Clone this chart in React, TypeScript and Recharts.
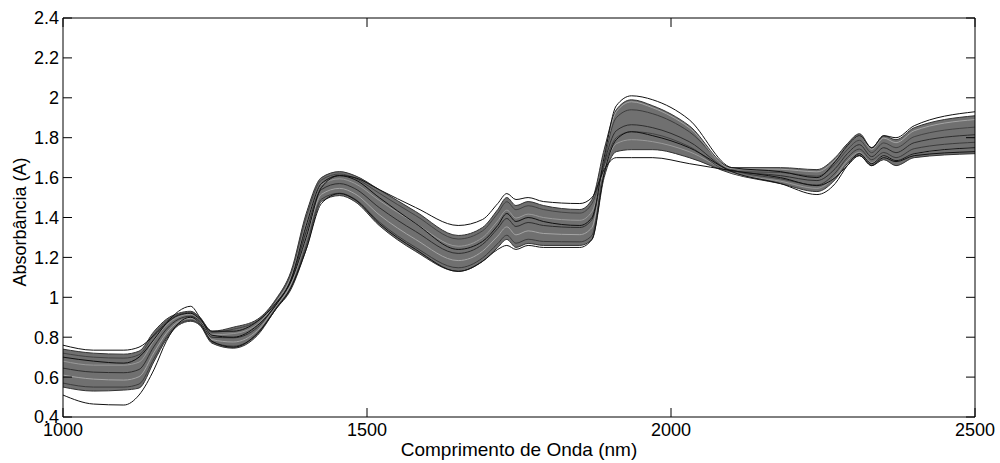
import React from 'react';
import { ComposedChart, Line, Area, XAxis, YAxis } from 'recharts';

// Wavelength grid (nm)
const wavelength = [1000, 1050, 1100, 1125, 1150, 1170, 1190, 1210, 1225, 1245, 1280, 1320, 1350, 1375, 1400, 1425, 1455, 1480, 1520, 1580, 1650, 1690, 1715, 1730, 1745, 1765, 1790, 1850, 1870, 1890, 1910, 1935, 1970, 2030, 2100, 2180, 2240, 2270, 2290, 2310, 2330, 2350, 2370, 2400, 2500];

// Envelope of the dense bundle of spectra
const bandLow = [0.55, 0.53, 0.535, 0.545, 0.68, 0.79, 0.86, 0.88, 0.86, 0.77, 0.745, 0.81, 0.94, 1.04, 1.24, 1.48, 1.51, 1.48, 1.36, 1.23, 1.13, 1.18, 1.25, 1.29, 1.25, 1.27, 1.26, 1.26, 1.29, 1.60, 1.73, 1.74, 1.74, 1.70, 1.62, 1.57, 1.53, 1.59, 1.67, 1.71, 1.66, 1.69, 1.66, 1.70, 1.72];
const bandHigh = [0.74, 0.72, 0.715, 0.73, 0.83, 0.89, 0.92, 0.93, 0.90, 0.83, 0.85, 0.89, 0.99, 1.13, 1.42, 1.60, 1.63, 1.61, 1.54, 1.43, 1.31, 1.35, 1.44, 1.50, 1.46, 1.48, 1.46, 1.44, 1.49, 1.74, 1.94, 1.99, 1.96, 1.86, 1.65, 1.65, 1.64, 1.70, 1.77, 1.82, 1.75, 1.81, 1.79, 1.85, 1.91];

// Individual spectra
const spectrumA = [0.76, 0.735, 0.735, 0.75, 0.81, 0.87, 0.91, 0.92, 0.89, 0.83, 0.83, 0.88, 0.97, 1.08, 1.30, 1.55, 1.61, 1.60, 1.54, 1.45, 1.36, 1.39, 1.47, 1.52, 1.49, 1.50, 1.48, 1.47, 1.50, 1.64, 1.70, 1.70, 1.70, 1.67, 1.635, 1.60, 1.56, 1.60, 1.66, 1.71, 1.66, 1.70, 1.68, 1.71, 1.73];
const spectrumB = [0.51, 0.465, 0.46, 0.51, 0.64, 0.78, 0.87, 0.90, 0.87, 0.78, 0.75, 0.82, 0.94, 1.05, 1.24, 1.47, 1.52, 1.49, 1.37, 1.24, 1.13, 1.18, 1.24, 1.26, 1.24, 1.26, 1.25, 1.25, 1.29, 1.62, 1.79, 1.83, 1.81, 1.75, 1.63, 1.57, 1.515, 1.57, 1.66, 1.72, 1.67, 1.71, 1.685, 1.72, 1.75];
const spectrumC = [0.70, 0.68, 0.67, 0.70, 0.79, 0.87, 0.93, 0.955, 0.90, 0.81, 0.80, 0.86, 0.96, 1.09, 1.36, 1.57, 1.61, 1.59, 1.50, 1.37, 1.24, 1.28, 1.36, 1.42, 1.38, 1.40, 1.38, 1.36, 1.40, 1.70, 1.96, 2.01, 1.99, 1.89, 1.65, 1.63, 1.60, 1.68, 1.76, 1.81, 1.75, 1.81, 1.80, 1.86, 1.93];
const spectrum1 = [0.57, 0.55, 0.55, 0.565, 0.695, 0.80, 0.866, 0.885, 0.864, 0.776, 0.755, 0.818, 0.945, 1.049, 1.258, 1.492, 1.522, 1.493, 1.378, 1.25, 1.148, 1.197, 1.269, 1.311, 1.271, 1.291, 1.28, 1.278, 1.31, 1.68, 1.90, 1.94, 1.92, 1.83, 1.64, 1.594, 1.563, 1.623, 1.70, 1.743, 1.69, 1.726, 1.70, 1.745, 1.777];
const spectrum2 = [0.61, 0.59, 0.585, 0.602, 0.725, 0.82, 0.878, 0.895, 0.872, 0.788, 0.776, 0.834, 0.955, 1.067, 1.294, 1.516, 1.546, 1.519, 1.414, 1.29, 1.184, 1.231, 1.307, 1.353, 1.313, 1.333, 1.32, 1.314, 1.35, 1.70, 1.93, 1.98, 1.95, 1.85, 1.645, 1.642, 1.629, 1.689, 1.76, 1.809, 1.742, 1.798, 1.775, 1.835, 1.891];
const spectrum3 = [0.645, 0.625, 0.622, 0.638, 0.755, 0.84, 0.89, 0.905, 0.88, 0.80, 0.797, 0.85, 0.965, 1.085, 1.33, 1.54, 1.57, 1.545, 1.45, 1.33, 1.22, 1.265, 1.345, 1.395, 1.355, 1.375, 1.36, 1.35, 1.39, 1.67, 1.835, 1.865, 1.85, 1.78, 1.635, 1.61, 1.585, 1.645, 1.72, 1.765, 1.705, 1.75, 1.725, 1.775, 1.815];
const spectrum4 = [0.68, 0.66, 0.66, 0.675, 0.785, 0.86, 0.902, 0.915, 0.888, 0.812, 0.818, 0.866, 0.975, 1.103, 1.366, 1.564, 1.594, 1.571, 1.486, 1.37, 1.256, 1.299, 1.383, 1.437, 1.397, 1.417, 1.40, 1.386, 1.43, 1.64, 1.77, 1.79, 1.78, 1.73, 1.625, 1.582, 1.546, 1.607, 1.685, 1.727, 1.675, 1.708, 1.685, 1.72, 1.75];
const spectrum5 = [0.72, 0.70, 0.695, 0.712, 0.815, 0.88, 0.914, 0.925, 0.896, 0.824, 0.84, 0.882, 0.985, 1.121, 1.402, 1.588, 1.618, 1.597, 1.522, 1.41, 1.292, 1.333, 1.421, 1.479, 1.439, 1.459, 1.44, 1.422, 1.47, 1.66, 1.80, 1.83, 1.82, 1.756, 1.63, 1.626, 1.607, 1.667, 1.74, 1.787, 1.725, 1.774, 1.75, 1.805, 1.853];

const xTicks = [1000, 1500, 2000, 2500];
const yTicks = [0.4, 0.6, 0.8, 1, 1.2, 1.4, 1.6, 1.8, 2, 2.2, 2.4];
const yTickLabels = ['0.4', '0.6', '0.8', '1', '1.2', '1.4', '1.6', '1.8', '2', '2.2', '2.4'];
const xTitle = 'Comprimento de Onda (nm)';
const yTitle = 'Absorbância (A)';

const data = wavelength.map((w, i) => ({
  w,
  band: [bandLow[i], bandHigh[i]],
  a: spectrumA[i],
  b: spectrumB[i],
  c: spectrumC[i],
  s1: spectrum1[i],
  s2: spectrum2[i],
  s3: spectrum3[i],
  s4: spectrum4[i],
  s5: spectrum5[i],
}));

const FONT = '"Liberation Sans", Arial, Helvetica, sans-serif';
const TL = 9;

const BottomTick = (props: any) => {
  const { x, y, payload } = props;
  return (
    <g>
      <line x1={x} y1={y} x2={x} y2={y - TL} stroke="#000" strokeWidth={1} />
      <text x={x} y={y + 19} textAnchor="middle" fontSize={18} fontFamily={FONT} fill="#000">
        {payload.value}
      </text>
    </g>
  );
};

const TopTick = (props: any) => {
  const { x, y } = props;
  return <line x1={x} y1={y} x2={x} y2={y + TL} stroke="#000" strokeWidth={1} />;
};

const LeftTick = (props: any) => {
  const { x, y, payload, index } = props;
  const label = yTickLabels[index] ?? String(payload.value);
  return (
    <g>
      <line x1={x} y1={y} x2={x + TL} y2={y} stroke="#000" strokeWidth={1} />
      <text x={x - 4} y={y} dy="0.36em" textAnchor="end" fontSize={18} fontFamily={FONT} fill="#000">
        {label}
      </text>
    </g>
  );
};

const RightTick = (props: any) => {
  const { x, y } = props;
  return <line x1={x} y1={y} x2={x - TL} y2={y} stroke="#000" strokeWidth={1} />;
};

const lineSpecs = [
  { key: 's1', color: '#3c3c3c' },
  { key: 's2', color: '#a5a5a5' },
  { key: 's3', color: '#2e2e2e' },
  { key: 's4', color: '#9a9a9a' },
  { key: 's5', color: '#444444' },
  { key: 'c', color: '#111111' },
  { key: 'a', color: '#111111' },
  { key: 'b', color: '#111111' },
];

export default function App() {
  return (
    <div style={{ position: 'absolute', left: 0, top: 0, width: 1000, height: 463, background: '#fff' }}>
      <ComposedChart
        width={1000}
        height={463}
        data={data}
        margin={{ top: 17, right: 15, bottom: 16, left: 8 }}
      >
        <XAxis
          xAxisId="bottom"
          dataKey="w"
          type="number"
          domain={[1000, 2500]}
          ticks={xTicks}
          interval={0}
          height={30}
          tickSize={0}
          tickMargin={0}
          tickLine={false}
          axisLine={{ stroke: '#000' }}
          tick={<BottomTick />}
          allowDataOverflow
        />
        <XAxis
          xAxisId="top"
          orientation="top"
          dataKey="w"
          type="number"
          domain={[1000, 2500]}
          ticks={xTicks}
          interval={0}
          height={1}
          tickSize={0}
          tickMargin={0}
          tickLine={false}
          axisLine={{ stroke: '#000' }}
          tick={<TopTick />}
          allowDataOverflow
        />
        <YAxis
          yAxisId="left"
          type="number"
          domain={[0.4, 2.4]}
          ticks={yTicks}
          interval={0}
          width={55}
          tickSize={0}
          tickMargin={0}
          tickLine={false}
          axisLine={{ stroke: '#000' }}
          tick={<LeftTick />}
          allowDataOverflow
        />
        <YAxis
          yAxisId="right"
          orientation="right"
          type="number"
          domain={[0.4, 2.4]}
          ticks={yTicks}
          interval={0}
          width={10}
          tickSize={0}
          tickMargin={0}
          tickLine={false}
          axisLine={{ stroke: '#000' }}
          tick={<RightTick />}
          allowDataOverflow
        />
        <Area
          xAxisId="bottom"
          yAxisId="left"
          dataKey="band"
          type="monotone"
          stroke="#333"
          strokeWidth={1}
          fill="#707070"
          fillOpacity={1}
          isAnimationActive={false}
          dot={false}
          activeDot={false}
        />
        {lineSpecs.map((s) => (
          <Line
            key={s.key}
            xAxisId="bottom"
            yAxisId="left"
            dataKey={s.key}
            type="monotone"
            stroke={s.color}
            strokeWidth={1}
            dot={false}
            activeDot={false}
            isAnimationActive={false}
          />
        ))}
      </ComposedChart>
      <svg
        width={1000}
        height={463}
        style={{ position: 'absolute', left: 0, top: 0, pointerEvents: 'none' }}
      >
        <text x={519} y={456} textAnchor="middle" fontSize={19} fontFamily={FONT} fill="#000">
          {xTitle}
        </text>
        <text
          x={0}
          y={0}
          transform="translate(26, 222) rotate(-90)"
          textAnchor="middle"
          fontSize={18}
          fontFamily={FONT}
          fill="#000"
        >
          {yTitle}
        </text>
      </svg>
    </div>
  );
}
